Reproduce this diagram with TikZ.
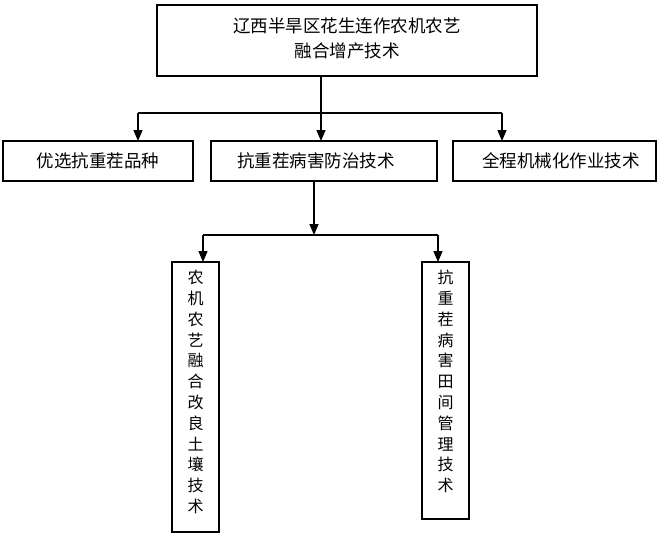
\documentclass[tikz,border=0pt]{standalone}
\usepackage{fontspec}
\newfontfamily\cjk{Noto Sans CJK SC}
\usetikzlibrary{arrows.meta}
\begin{document}
\begin{tikzpicture}[x=1pt,y=-1pt,
  box/.style={draw=black,line width=1.3pt,inner sep=0pt},
  lbl/.style={font=\cjk\fontsize{17.5}{25}\selectfont,inner sep=0pt,align=center},
  vlbl/.style={font=\cjk\fontsize{16}{20.8}\selectfont,inner sep=0pt,align=center,anchor=north},
  conn/.style={line width=1.3pt},
  arr/.style={line width=1.3pt,-{Triangle[width=9pt,length=11pt]}}]
\useasboundingbox (0,0) rectangle (662,555);
% boxes
\draw[box] (157,5) rectangle (537,76);
\node[lbl] (top) at (347,38) {辽西半旱区花生连作农机农艺\\融合增产技术};
\coordinate (topS) at (321,76);
\draw[box] (3,141) rectangle (193,181);
\node[lbl] (b1) at (98,161) {优选抗重茬品种};
\draw[box] (211,141) rectangle (437,181);
\node[lbl] (b2) at (316,161) {抗重茬病害防治技术};
\draw[box] (453,141) rectangle (656,181);
\node[lbl] (b3) at (561,161) {全程机械化作业技术};
\draw[box] (172,262) rectangle (219,532);
\node[vlbl] (c1) at (195.5,270) {农\\机\\农\\艺\\融\\合\\改\\良\\土\\壤\\技\\术};
\draw[box] (422,262) rectangle (469,519);
\node[vlbl] (c2) at (445.5,270) {抗\\重\\茬\\病\\害\\田\\间\\管\\理\\技\\术};
% connectors
\coordinate (j1) at (321,113);
\coordinate (a1) at (138,113);
\coordinate (a3) at (502,113);
\coordinate (b1n) at (138,141);
\coordinate (b2n) at (321,141);
\coordinate (b3n) at (502,141);
\draw[conn] (topS) -- (j1);
\draw[conn] (a1) -- (a3);
\draw[arr] (a1) -- (b1n);
\draw[arr] (j1) -- (b2n);
\draw[arr] (a3) -- (b3n);
\coordinate (m0) at (314,181);
\coordinate (j2) at (314,235);
\coordinate (d1) at (203,235);
\coordinate (d2) at (438,235);
\coordinate (c1n) at (203,262);
\coordinate (c2n) at (438,262);
\draw[arr] (m0) -- (j2);
\draw[conn] (d1) -- (d2);
\draw[arr] (d1) -- (c1n);
\draw[arr] (d2) -- (c2n);
\end{tikzpicture}
\end{document}
